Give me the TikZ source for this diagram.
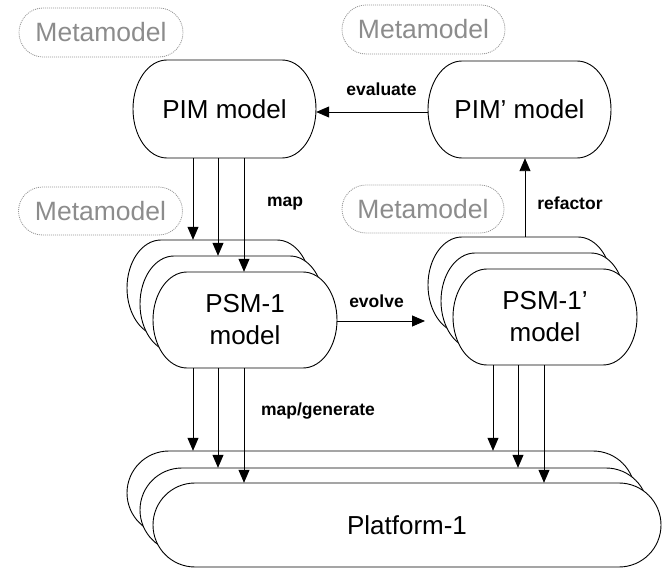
\documentclass[tikz,border=0pt]{standalone}
\usepackage{fontspec}
\setmainfont{Liberation Sans}
\usetikzlibrary{arrows.meta}
\tikzset{
  shapeline/.style={draw=black, line width=0.9pt, fill=white},
  metaline/.style={draw=black!42, dash pattern=on 1pt off 1pt, line width=0.8pt},
  boxtext/.style={inner sep=0pt, align=center, font=\fontsize{26}{32}\selectfont},
  metatext/.style={inner sep=0pt, text=black!45, font=\fontsize{26.5}{30}\selectfont},
  lbl/.style={font=\fontsize{17.5}{20}\selectfont\bfseries, inner sep=0pt},
  arr/.style={line width=0.9pt, -{Triangle[length=13pt,width=11pt]}},
}
% #1 path style, #2 node style, #3 name, #4 cx, #5 cy, #6 width, #7 height, #8 end radius, #9 text
\newcommand\capsule[9]{%
  \path[#1] ({#4+#6/2-#8},{#5-#7/2}) arc[start angle=-90,end angle=90,x radius=#8,y radius=#7/2]
    -- ({#4-#6/2+#8},{#5+#7/2}) arc[start angle=90,end angle=270,x radius=#8,y radius=#7/2] -- cycle;
  \node[#2, minimum width=#6pt, minimum height=#7pt] (#3) at (#4,#5) {#9};
}
\begin{document}
\begin{tikzpicture}[x=1pt,y=-1pt]
\useasboundingbox (0,0) rectangle (662,569);
% metamodels
\capsule{metaline}{metatext}{meta1}{101}{32.5}{164}{49}{24}{Metamodel}
\capsule{metaline}{metatext}{meta2}{423.5}{29.5}{163}{49}{24}{Metamodel}
\capsule{metaline}{metatext}{meta3}{100.5}{211}{164}{48}{24}{Metamodel}
\capsule{metaline}{metatext}{meta4}{423}{209}{162}{48}{24}{Metamodel}
% PIM models
\capsule{shapeline}{boxtext}{pim}{224.5}{109}{183}{98}{34}{PIM model}
\capsule{shapeline}{boxtext}{pimp}{519.5}{109.5}{183}{97}{34}{PIM' model}
% PSM stack
\capsule{shapeline}{boxtext}{psmA}{219}{288}{184}{96}{34}{}
\capsule{shapeline}{boxtext}{psmB}{232}{304}{184}{96}{34}{}
\capsule{shapeline}{boxtext}{psmC}{245}{320}{184}{96}{34}{PSM-1\\model}
% PSM' stack
\capsule{shapeline}{boxtext}{psmpA}{520}{285}{184}{96}{34}{}
\capsule{shapeline}{boxtext}{psmpB}{533}{301}{184}{96}{34}{}
\capsule{shapeline}{boxtext}{psmpC}{545}{317}{184}{96}{34}{PSM-1'\\model}
% Platform stack
\capsule{shapeline}{boxtext}{platA}{381}{493}{508}{84}{42}{}
\capsule{shapeline}{boxtext}{platB}{394}{510}{508}{84}{42}{}
\capsule{shapeline}{boxtext}{platC}{407}{525}{508}{84}{42}{Platform-1}
% x positions of the vertical arrows
\coordinate (xa) at (193,0);
\coordinate (xb) at (218,0);
\coordinate (xc) at (244,0);
\coordinate (xd) at (493,0);
\coordinate (xe) at (518,0);
\coordinate (xf) at (544,0);
\coordinate (xr) at (525,0);
\coordinate (yev) at (0,112);
\coordinate (evend) at (425,321);
% connectors
\draw[arr] (pimp.west |- yev) -- (pim.east |- yev);
\draw[arr] (pim.south -| xa) -- (psmA.north -| xa);
\draw[arr] (pim.south -| xb) -- (psmB.north -| xb);
\draw[arr] (pim.south -| xc) -- (psmC.north -| xc);
\draw[arr] (psmpA.north -| xr) -- (pimp.south -| xr);
\draw[arr] (psmC.east |- evend) -- (evend);
\draw[arr] (psmC.south -| xa) -- (platA.north -| xa);
\draw[arr] (psmC.south -| xb) -- (platB.north -| xb);
\draw[arr] (psmC.south -| xc) -- (platC.north -| xc);
\draw[arr] (psmpC.south -| xd) -- (platA.north -| xd);
\draw[arr] (psmpC.south -| xe) -- (platB.north -| xe);
\draw[arr] (psmpC.south -| xf) -- (platC.north -| xf);
% labels
\node[lbl] (levaluate) at (381.5,89) {evaluate};
\node[lbl] (lmap) at (285,204) {map};
\node[lbl] (lrefactor) at (570,203) {refactor};
\node[lbl] (levolve) at (376.5,301) {evolve};
\node[lbl] (lmapgen) at (318,411) {map/generate};
\end{tikzpicture}
\end{document}
